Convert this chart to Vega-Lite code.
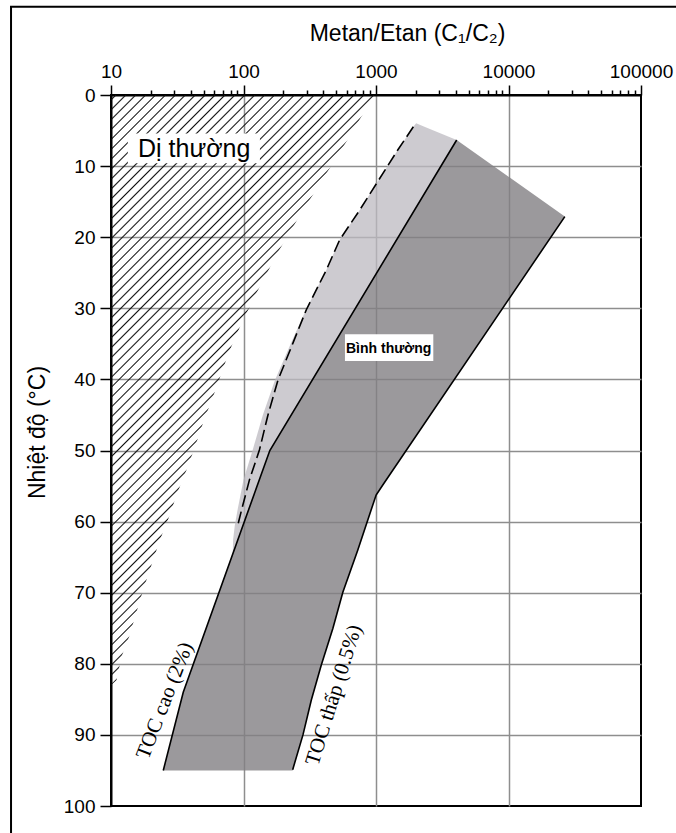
{
"$schema": "https://vega.github.io/schema/vega-lite/v6.json",
"autosize": "none",
"padding": {"left": 111, "top": 95, "right": 35, "bottom": 27},
"width": 530,
"height": 711,
"background": "white",
"config": {
  "font": "Liberation Sans",
  "view": {"stroke": "#000", "strokeWidth": 2},
  "axis": {
    "labelFont": "Liberation Sans", "labelFontSize": 19, "labelColor": "#000",
    "tickColor": "#000", "tickWidth": 1.5,
    "domainColor": "#000", "domainWidth": 2,
    "gridColor": "#8e8e8e", "gridWidth": 1.5,
    "titleFont": "Liberation Sans", "titleFontSize": 23, "titleFontWeight": "normal", "titleColor": "#000",
    "labelOverlap": false, "labelFlush": false, "labelBound": false
  }
},
"datasets": {
  "hatch": [
    {"y": 0, "x": 1000}, {"y": 3.05, "x": 774}, {"y": 6.3, "x": 610}, {"y": 11.5, "x": 407},
    {"y": 16.6, "x": 273}, {"y": 22.2, "x": 181}, {"y": 27.9, "x": 125}, {"y": 32.1, "x": 96.6},
    {"y": 35.9, "x": 78.7}, {"y": 39.1, "x": 68.2}, {"y": 42.4, "x": 59}, {"y": 45.9, "x": 50},
    {"y": 49.5, "x": 43}, {"y": 52.7, "x": 37.2}, {"y": 56, "x": 31.6}, {"y": 59.3, "x": 27.5},
    {"y": 62.6, "x": 23.4}, {"y": 65.4, "x": 20.8}, {"y": 69.6, "x": 17.5}, {"y": 73.4, "x": 15.2},
    {"y": 76.2, "x": 13.7}, {"y": 79, "x": 12.0}, {"y": 82.3, "x": 11.0}, {"y": 83, "x": 10}
  ],
  "light": [
    {"y": 3.98, "x": 2009, "xe": 2009}, {"y": 4.46, "x": 1914, "xe": 2320}, {"y": 6.33, "x": 1641, "xe": 4064},
    {"y": 7.74, "x": 1459, "xe": 3656}, {"y": 10.3, "x": 1194, "xe": 3027}, {"y": 16.2, "x": 752, "xe": 1950},
    {"y": 20.4, "x": 531, "xe": 1426}, {"y": 24.6, "x": 422, "xe": 1045}, {"y": 30.2, "x": 296, "xe": 689},
    {"y": 34.9, "x": 228, "xe": 485}, {"y": 40.1, "x": 173, "xe": 330}, {"y": 45, "x": 140, "xe": 229},
    {"y": 50, "x": 117, "xe": 158}, {"y": 54.1, "x": 100, "xe": 131.5}, {"y": 58.4, "x": 90.1, "xe": 108.9},
    {"y": 60.5, "x": 86, "xe": 99.1}, {"y": 62.6, "x": 83.4, "xe": 90.4}, {"y": 64.5, "x": 83, "xe": 83}
  ],
  "dark": [
    {"y": 6.33, "x": 4064, "xe": 4064}, {"y": 17.1, "x": 1824, "xe": 26610}, {"y": 50, "x": 158, "xe": 1687},
    {"y": 54.85, "x": 127.4, "xe": 1125}, {"y": 56.26, "x": 119.7, "xe": 1002}, {"y": 59.77, "x": 102.3, "xe": 867},
    {"y": 64, "x": 84.9, "xe": 729}, {"y": 69.94, "x": 65.3, "xe": 562}, {"y": 75, "x": 52.2, "xe": 473},
    {"y": 80.2, "x": 41.5, "xe": 386}, {"y": 84, "x": 35.1, "xe": 338}, {"y": 85.1, "x": 33.9, "xe": 325},
    {"y": 90, "x": 29.0, "xe": 281}, {"y": 95, "x": 24.8, "xe": 235}
  ],
  "toc": [
    {"k": "cao", "y": 6.33, "x": 4064}, {"k": "cao", "y": 50, "x": 158}, {"k": "cao", "y": 84, "x": 35.1}, {"k": "cao", "y": 95, "x": 24.8},
    {"k": "thap", "y": 17.1, "x": 26610}, {"k": "thap", "y": 54.85, "x": 1125}, {"k": "thap", "y": 56.26, "x": 1002},
    {"k": "thap", "y": 59.77, "x": 867}, {"k": "thap", "y": 64, "x": 729}, {"k": "thap", "y": 69.94, "x": 562},
    {"k": "thap", "y": 75, "x": 473}, {"k": "thap", "y": 80.2, "x": 386}, {"k": "thap", "y": 85.1, "x": 325},
    {"k": "thap", "y": 90, "x": 281}, {"k": "thap", "y": 94.9, "x": 235}
  ],
  "dash": [
    {"y": 4.46, "x": 1914}, {"y": 7.74, "x": 1459}, {"y": 10.3, "x": 1194}, {"y": 16.2, "x": 752},
    {"y": 20.4, "x": 531}, {"y": 24.6, "x": 422}, {"y": 30.2, "x": 298}, {"y": 34.9, "x": 236},
    {"y": 40.1, "x": 182}, {"y": 45, "x": 153}, {"y": 49.9, "x": 132}, {"y": 54.1, "x": 111},
    {"y": 58.4, "x": 96.6}, {"y": 60.5, "x": 90.6}
  ],
  "boxes": [
    {"x": 13.4, "xe": 133, "y": 5.4, "ye": 9.6},
    {"x": 583, "xe": 2707, "y": 33.66, "ye": 37.41}
  ]
},
"layer": [
  {
    "data": {"name": "hatch"},
    "mark": {"type": "area", "orient": "horizontal", "clip": false,
      "fill": {"gradient": "linear", "x1": 0, "y1": 0, "x2": 0.5416, "y2": 1.2059, "stops": [
        {"offset":0,"color":"rgba(0,0,0,0)"},
        {"offset":0.004,"color":"rgba(0,0,0,0)"},{"offset":0.0057,"color":"#111"},{"offset":0.0074,"color":"rgba(0,0,0,0)"},
        {"offset":0.0156,"color":"rgba(0,0,0,0)"},{"offset":0.0173,"color":"#111"},{"offset":0.019,"color":"rgba(0,0,0,0)"},
        {"offset":0.0272,"color":"rgba(0,0,0,0)"},{"offset":0.0289,"color":"#111"},{"offset":0.0306,"color":"rgba(0,0,0,0)"},
        {"offset":0.0388,"color":"rgba(0,0,0,0)"},{"offset":0.0405,"color":"#111"},{"offset":0.0422,"color":"rgba(0,0,0,0)"},
        {"offset":0.0504,"color":"rgba(0,0,0,0)"},{"offset":0.0521,"color":"#111"},{"offset":0.0538,"color":"rgba(0,0,0,0)"},
        {"offset":0.062,"color":"rgba(0,0,0,0)"},{"offset":0.0637,"color":"#111"},{"offset":0.0654,"color":"rgba(0,0,0,0)"},
        {"offset":0.0736,"color":"rgba(0,0,0,0)"},{"offset":0.0753,"color":"#111"},{"offset":0.077,"color":"rgba(0,0,0,0)"},
        {"offset":0.0852,"color":"rgba(0,0,0,0)"},{"offset":0.0869,"color":"#111"},{"offset":0.0886,"color":"rgba(0,0,0,0)"},
        {"offset":0.0968,"color":"rgba(0,0,0,0)"},{"offset":0.0985,"color":"#111"},{"offset":0.1002,"color":"rgba(0,0,0,0)"},
        {"offset":0.1084,"color":"rgba(0,0,0,0)"},{"offset":0.1101,"color":"#111"},{"offset":0.1118,"color":"rgba(0,0,0,0)"},
        {"offset":0.12,"color":"rgba(0,0,0,0)"},{"offset":0.1217,"color":"#111"},{"offset":0.1234,"color":"rgba(0,0,0,0)"},
        {"offset":0.1316,"color":"rgba(0,0,0,0)"},{"offset":0.1333,"color":"#111"},{"offset":0.135,"color":"rgba(0,0,0,0)"},
        {"offset":0.1432,"color":"rgba(0,0,0,0)"},{"offset":0.1449,"color":"#111"},{"offset":0.1466,"color":"rgba(0,0,0,0)"},
        {"offset":0.1548,"color":"rgba(0,0,0,0)"},{"offset":0.1565,"color":"#111"},{"offset":0.1582,"color":"rgba(0,0,0,0)"},
        {"offset":0.1664,"color":"rgba(0,0,0,0)"},{"offset":0.1681,"color":"#111"},{"offset":0.1698,"color":"rgba(0,0,0,0)"},
        {"offset":0.178,"color":"rgba(0,0,0,0)"},{"offset":0.1797,"color":"#111"},{"offset":0.1814,"color":"rgba(0,0,0,0)"},
        {"offset":0.1896,"color":"rgba(0,0,0,0)"},{"offset":0.1913,"color":"#111"},{"offset":0.193,"color":"rgba(0,0,0,0)"},
        {"offset":0.2012,"color":"rgba(0,0,0,0)"},{"offset":0.2029,"color":"#111"},{"offset":0.2046,"color":"rgba(0,0,0,0)"},
        {"offset":0.2128,"color":"rgba(0,0,0,0)"},{"offset":0.2145,"color":"#111"},{"offset":0.2162,"color":"rgba(0,0,0,0)"},
        {"offset":0.2244,"color":"rgba(0,0,0,0)"},{"offset":0.2261,"color":"#111"},{"offset":0.2278,"color":"rgba(0,0,0,0)"},
        {"offset":0.236,"color":"rgba(0,0,0,0)"},{"offset":0.2377,"color":"#111"},{"offset":0.2394,"color":"rgba(0,0,0,0)"},
        {"offset":0.2476,"color":"rgba(0,0,0,0)"},{"offset":0.2493,"color":"#111"},{"offset":0.251,"color":"rgba(0,0,0,0)"},
        {"offset":0.2592,"color":"rgba(0,0,0,0)"},{"offset":0.2609,"color":"#111"},{"offset":0.2626,"color":"rgba(0,0,0,0)"},
        {"offset":0.2708,"color":"rgba(0,0,0,0)"},{"offset":0.2725,"color":"#111"},{"offset":0.2742,"color":"rgba(0,0,0,0)"},
        {"offset":0.2824,"color":"rgba(0,0,0,0)"},{"offset":0.2841,"color":"#111"},{"offset":0.2858,"color":"rgba(0,0,0,0)"},
        {"offset":0.294,"color":"rgba(0,0,0,0)"},{"offset":0.2957,"color":"#111"},{"offset":0.2974,"color":"rgba(0,0,0,0)"},
        {"offset":0.3056,"color":"rgba(0,0,0,0)"},{"offset":0.3073,"color":"#111"},{"offset":0.309,"color":"rgba(0,0,0,0)"},
        {"offset":0.3172,"color":"rgba(0,0,0,0)"},{"offset":0.3189,"color":"#111"},{"offset":0.3206,"color":"rgba(0,0,0,0)"},
        {"offset":0.3288,"color":"rgba(0,0,0,0)"},{"offset":0.3305,"color":"#111"},{"offset":0.3322,"color":"rgba(0,0,0,0)"},
        {"offset":0.3404,"color":"rgba(0,0,0,0)"},{"offset":0.3421,"color":"#111"},{"offset":0.3438,"color":"rgba(0,0,0,0)"},
        {"offset":0.352,"color":"rgba(0,0,0,0)"},{"offset":0.3537,"color":"#111"},{"offset":0.3554,"color":"rgba(0,0,0,0)"},
        {"offset":0.3636,"color":"rgba(0,0,0,0)"},{"offset":0.3653,"color":"#111"},{"offset":0.367,"color":"rgba(0,0,0,0)"},
        {"offset":0.3752,"color":"rgba(0,0,0,0)"},{"offset":0.3769,"color":"#111"},{"offset":0.3786,"color":"rgba(0,0,0,0)"},
        {"offset":0.3868,"color":"rgba(0,0,0,0)"},{"offset":0.3885,"color":"#111"},{"offset":0.3902,"color":"rgba(0,0,0,0)"},
        {"offset":0.3984,"color":"rgba(0,0,0,0)"},{"offset":0.4001,"color":"#111"},{"offset":0.4018,"color":"rgba(0,0,0,0)"},
        {"offset":0.41,"color":"rgba(0,0,0,0)"},{"offset":0.4117,"color":"#111"},{"offset":0.4134,"color":"rgba(0,0,0,0)"},
        {"offset":0.4216,"color":"rgba(0,0,0,0)"},{"offset":0.4233,"color":"#111"},{"offset":0.425,"color":"rgba(0,0,0,0)"},
        {"offset":0.4332,"color":"rgba(0,0,0,0)"},{"offset":0.4349,"color":"#111"},{"offset":0.4366,"color":"rgba(0,0,0,0)"},
        {"offset":0.4448,"color":"rgba(0,0,0,0)"},{"offset":0.4465,"color":"#111"},{"offset":0.4482,"color":"rgba(0,0,0,0)"},
        {"offset":0.4564,"color":"rgba(0,0,0,0)"},{"offset":0.4581,"color":"#111"},{"offset":0.4598,"color":"rgba(0,0,0,0)"},
        {"offset":0.468,"color":"rgba(0,0,0,0)"},{"offset":0.4697,"color":"#111"},{"offset":0.4714,"color":"rgba(0,0,0,0)"},
        {"offset":0.4796,"color":"rgba(0,0,0,0)"},{"offset":0.4813,"color":"#111"},{"offset":0.483,"color":"rgba(0,0,0,0)"},
        {"offset":0.4912,"color":"rgba(0,0,0,0)"},{"offset":0.4929,"color":"#111"},{"offset":0.4946,"color":"rgba(0,0,0,0)"},
        {"offset":0.5028,"color":"rgba(0,0,0,0)"},{"offset":0.5045,"color":"#111"},{"offset":0.5062,"color":"rgba(0,0,0,0)"},
        {"offset":0.5144,"color":"rgba(0,0,0,0)"},{"offset":0.5161,"color":"#111"},{"offset":0.5178,"color":"rgba(0,0,0,0)"},
        {"offset":0.526,"color":"rgba(0,0,0,0)"},{"offset":0.5277,"color":"#111"},{"offset":0.5294,"color":"rgba(0,0,0,0)"},
        {"offset":0.5376,"color":"rgba(0,0,0,0)"},{"offset":0.5393,"color":"#111"},{"offset":0.541,"color":"rgba(0,0,0,0)"},
        {"offset":0.5492,"color":"rgba(0,0,0,0)"},{"offset":0.5509,"color":"#111"},{"offset":0.5526,"color":"rgba(0,0,0,0)"},
        {"offset":0.5608,"color":"rgba(0,0,0,0)"},{"offset":0.5625,"color":"#111"},{"offset":0.5642,"color":"rgba(0,0,0,0)"},
        {"offset":0.5724,"color":"rgba(0,0,0,0)"},{"offset":0.5741,"color":"#111"},{"offset":0.5758,"color":"rgba(0,0,0,0)"},
        {"offset":0.584,"color":"rgba(0,0,0,0)"},{"offset":0.5857,"color":"#111"},{"offset":0.5874,"color":"rgba(0,0,0,0)"},
        {"offset":0.5956,"color":"rgba(0,0,0,0)"},{"offset":0.5973,"color":"#111"},{"offset":0.599,"color":"rgba(0,0,0,0)"},
        {"offset":0.6072,"color":"rgba(0,0,0,0)"},{"offset":0.6089,"color":"#111"},{"offset":0.6106,"color":"rgba(0,0,0,0)"},
        {"offset":0.6188,"color":"rgba(0,0,0,0)"},{"offset":0.6205,"color":"#111"},{"offset":0.6222,"color":"rgba(0,0,0,0)"},
        {"offset":0.6304,"color":"rgba(0,0,0,0)"},{"offset":0.6321,"color":"#111"},{"offset":0.6338,"color":"rgba(0,0,0,0)"},
        {"offset":0.642,"color":"rgba(0,0,0,0)"},{"offset":0.6437,"color":"#111"},{"offset":0.6454,"color":"rgba(0,0,0,0)"},
        {"offset":0.6536,"color":"rgba(0,0,0,0)"},{"offset":0.6553,"color":"#111"},{"offset":0.657,"color":"rgba(0,0,0,0)"},
        {"offset":0.6652,"color":"rgba(0,0,0,0)"},{"offset":0.6669,"color":"#111"},{"offset":0.6686,"color":"rgba(0,0,0,0)"},
        {"offset":0.6768,"color":"rgba(0,0,0,0)"},{"offset":0.6785,"color":"#111"},{"offset":0.6802,"color":"rgba(0,0,0,0)"},
        {"offset":0.6884,"color":"rgba(0,0,0,0)"},{"offset":0.6901,"color":"#111"},{"offset":0.6918,"color":"rgba(0,0,0,0)"},
        {"offset":0.7,"color":"rgba(0,0,0,0)"},{"offset":0.7017,"color":"#111"},{"offset":0.7034,"color":"rgba(0,0,0,0)"},
        {"offset":0.7116,"color":"rgba(0,0,0,0)"},{"offset":0.7133,"color":"#111"},{"offset":0.715,"color":"rgba(0,0,0,0)"},
        {"offset":0.7232,"color":"rgba(0,0,0,0)"},{"offset":0.7249,"color":"#111"},{"offset":0.7266,"color":"rgba(0,0,0,0)"},
        {"offset":0.7348,"color":"rgba(0,0,0,0)"},{"offset":0.7365,"color":"#111"},{"offset":0.7382,"color":"rgba(0,0,0,0)"},
        {"offset":0.7464,"color":"rgba(0,0,0,0)"},{"offset":0.7481,"color":"#111"},{"offset":0.7498,"color":"rgba(0,0,0,0)"},
        {"offset":0.758,"color":"rgba(0,0,0,0)"},{"offset":0.7597,"color":"#111"},{"offset":0.7614,"color":"rgba(0,0,0,0)"},
        {"offset":0.7696,"color":"rgba(0,0,0,0)"},{"offset":0.7713,"color":"#111"},{"offset":0.773,"color":"rgba(0,0,0,0)"},
        {"offset":0.7812,"color":"rgba(0,0,0,0)"},{"offset":0.7829,"color":"#111"},{"offset":0.7846,"color":"rgba(0,0,0,0)"},
        {"offset":0.7928,"color":"rgba(0,0,0,0)"},{"offset":0.7945,"color":"#111"},{"offset":0.7962,"color":"rgba(0,0,0,0)"},
        {"offset":0.8044,"color":"rgba(0,0,0,0)"},{"offset":0.8061,"color":"#111"},{"offset":0.8078,"color":"rgba(0,0,0,0)"},
        {"offset":0.816,"color":"rgba(0,0,0,0)"},{"offset":0.8177,"color":"#111"},{"offset":0.8194,"color":"rgba(0,0,0,0)"},
        {"offset":0.8276,"color":"rgba(0,0,0,0)"},{"offset":0.8293,"color":"#111"},{"offset":0.831,"color":"rgba(0,0,0,0)"},
        {"offset":0.8392,"color":"rgba(0,0,0,0)"},{"offset":0.8409,"color":"#111"},{"offset":0.8426,"color":"rgba(0,0,0,0)"},
        {"offset":0.8508,"color":"rgba(0,0,0,0)"},{"offset":0.8525,"color":"#111"},{"offset":0.8542,"color":"rgba(0,0,0,0)"},
        {"offset":0.8624,"color":"rgba(0,0,0,0)"},{"offset":0.8641,"color":"#111"},{"offset":0.8658,"color":"rgba(0,0,0,0)"},
        {"offset":0.874,"color":"rgba(0,0,0,0)"},{"offset":0.8757,"color":"#111"},{"offset":0.8774,"color":"rgba(0,0,0,0)"},
        {"offset":0.8856,"color":"rgba(0,0,0,0)"},{"offset":0.8873,"color":"#111"},{"offset":0.889,"color":"rgba(0,0,0,0)"},
        {"offset":0.8972,"color":"rgba(0,0,0,0)"},{"offset":0.8989,"color":"#111"},{"offset":0.9006,"color":"rgba(0,0,0,0)"},
        {"offset":0.9088,"color":"rgba(0,0,0,0)"},{"offset":0.9105,"color":"#111"},{"offset":0.9122,"color":"rgba(0,0,0,0)"},
        {"offset":0.9204,"color":"rgba(0,0,0,0)"},{"offset":0.9221,"color":"#111"},{"offset":0.9238,"color":"rgba(0,0,0,0)"},
        {"offset":0.932,"color":"rgba(0,0,0,0)"},{"offset":0.9337,"color":"#111"},{"offset":0.9354,"color":"rgba(0,0,0,0)"},
        {"offset":0.9436,"color":"rgba(0,0,0,0)"},{"offset":0.9453,"color":"#111"},{"offset":0.947,"color":"rgba(0,0,0,0)"},
        {"offset":0.9552,"color":"rgba(0,0,0,0)"},{"offset":0.9569,"color":"#111"},{"offset":0.9586,"color":"rgba(0,0,0,0)"},
        {"offset":0.9668,"color":"rgba(0,0,0,0)"},{"offset":0.9685,"color":"#111"},{"offset":0.9702,"color":"rgba(0,0,0,0)"},
        {"offset":0.9784,"color":"rgba(0,0,0,0)"},{"offset":0.9801,"color":"#111"},{"offset":0.9818,"color":"rgba(0,0,0,0)"},
        {"offset":0.99,"color":"rgba(0,0,0,0)"},{"offset":0.9917,"color":"#111"},{"offset":0.9934,"color":"rgba(0,0,0,0)"},
        {"offset":1,"color":"rgba(0,0,0,0)"}
      ]}},
    "encoding": {
      "y": {"field": "y", "type": "quantitative"},
      "x": {"field": "x", "type": "quantitative"},
      "x2": {"datum": 10}
    }
  },
  {
    "data": {"name": "light"},
    "mark": {"type": "area", "orient": "horizontal", "fill": "#bcbac0", "fillOpacity": 0.75, "clip": false},
    "encoding": {
      "y": {"field": "y", "type": "quantitative"},
      "x": {"field": "x", "type": "quantitative"},
      "x2": {"field": "xe"}
    }
  },
  {
    "data": {"name": "dark"},
    "mark": {"type": "area", "orient": "horizontal", "fill": "#828083", "fillOpacity": 0.8, "clip": false},
    "encoding": {
      "y": {"field": "y", "type": "quantitative"},
      "x": {"field": "x", "type": "quantitative"},
      "x2": {"field": "xe"}
    }
  },
  {
    "data": {"name": "toc"},
    "mark": {"type": "line", "color": "#000", "strokeWidth": 1.6},
    "encoding": {
      "x": {
        "field": "x", "type": "quantitative",
        "scale": {"type": "log", "domain": [10, 100000], "nice": false},
        "axis": {
          "orient": "top",
          "values": [10,20,30,40,50,60,70,80,90,100,200,300,400,500,600,700,800,900,1000,2000,3000,4000,5000,6000,7000,8000,9000,10000,20000,30000,40000,50000,60000,70000,80000,90000,100000],
          "format": "d",
          "labelExpr": "indexof(['10','100','1000','10000','100000'], datum.label) >= 0 ? datum.label : ''",
          "labelPadding": 8,
          "labelBaseline": "alphabetic",
          "tickSize": {"condition": {"test": "indexof([10,100,1000,10000,100000], datum.value) >= 0", "value": 10}, "value": 5},
          "grid": true,
          "gridOpacity": {"condition": {"test": "indexof([100,1000,10000], datum.value) >= 0", "value": 1}, "value": 0},
          "title": "Metan/Etan (C₁/C₂)",
          "titleX": 296, "titleY": -55, "titleAlign": "center", "titleBaseline": "alphabetic", "titleAngle": 0
        }
      },
      "y": {
        "field": "y", "type": "quantitative",
        "scale": {"domain": [0, 100], "reverse": true, "nice": false, "zero": false},
        "axis": {
          "values": [0,2.5,5,7.5,10,12.5,15,17.5,20,22.5,25,27.5,30,32.5,35,37.5,40,42.5,45,47.5,50,52.5,55,57.5,60,62.5,65,67.5,70,72.5,75,77.5,80,82.5,85,87.5,90,92.5,95,97.5,100],
          "labelExpr": "datum.value % 10 === 0 ? datum.label : ''",
          "labelPadding": 5,
          "tickSize": {"condition": [{"test": "datum.value % 10 === 0", "value": 11}, {"test": "datum.value % 5 === 0", "value": 8}], "value": 4},
          "grid": true,
          "gridOpacity": {"condition": {"test": "datum.value % 5 === 0 && datum.value > 0 && datum.value < 100", "value": 1}, "value": 0},
          "title": "Nhiệt độ (°C)",
          "titleX": -67, "titleY": 337, "titleAngle": 270, "titleAlign": "center", "titleBaseline": "alphabetic"
        }
      },
      "detail": {"field": "k"},
      "order": {"field": "y", "type": "quantitative"}
    }
  },
  {
    "data": {"name": "dash"},
    "mark": {"type": "line", "color": "#000", "strokeWidth": 1.6, "strokeDash": [12, 5]},
    "encoding": {
      "x": {"field": "x", "type": "quantitative"},
      "y": {"field": "y", "type": "quantitative"},
      "order": {"field": "y", "type": "quantitative"}
    }
  },
  {
    "data": {"name": "boxes"},
    "mark": {"type": "rect", "fill": "#ffffff", "clip": false},
    "encoding": {
      "x": {"field": "x", "type": "quantitative"},
      "x2": {"field": "xe"},
      "y": {"field": "y", "type": "quantitative"},
      "y2": {"field": "ye"}
    }
  },
  {
    "data": {"values": [{"x": 16, "y": 8.72, "t": "Dị thường"}]},
    "mark": {"type": "text", "align": "left", "baseline": "alphabetic", "fontSize": 25, "font": "Liberation Sans", "color": "#000"},
    "encoding": {"x": {"field": "x", "type": "quantitative"}, "y": {"field": "y", "type": "quantitative"}, "text": {"field": "t"}}
  },
  {
    "data": {"values": [{"x": 1247, "y": 36.33, "t": "Bình thường"}]},
    "mark": {"type": "text", "align": "center", "baseline": "alphabetic", "fontSize": 14, "fontWeight": "bold", "font": "Liberation Sans", "color": "#000"},
    "encoding": {"x": {"field": "x", "type": "quantitative"}, "y": {"field": "y", "type": "quantitative"}, "text": {"field": "t"}}
  },
  {
    "data": {"values": [{"x": 25.6, "y": 85.2, "t": "TOC cao (2%)"}]},
    "mark": {"type": "text", "align": "center", "baseline": "middle", "fontSize": 21, "font": "Liberation Serif", "angle": -68.7, "color": "#000"},
    "encoding": {"x": {"field": "x", "type": "quantitative"}, "y": {"field": "y", "type": "quantitative"}, "text": {"field": "t"}}
  },
  {
    "data": {"values": [{"x": 483.6, "y": 84.4, "t": "TOC thấp (0.5%)"}]},
    "mark": {"type": "text", "align": "center", "baseline": "middle", "fontSize": 21, "font": "Liberation Serif", "angle": -72.6, "color": "#000"},
    "encoding": {"x": {"field": "x", "type": "quantitative"}, "y": {"field": "y", "type": "quantitative"}, "text": {"field": "t"}}
  },
  {
    "data": {"values": [{"a": 1}]},
    "mark": {"type": "rect", "fill": null, "stroke": "#000", "strokeWidth": 2, "clip": false},
    "encoding": {
      "x": {"datum": 1.76, "type": "quantitative"}, "x2": {"datum": 300000},
      "y": {"datum": -12.4, "type": "quantitative"}, "y2": {"datum": 108}
    }
  }
]
}
